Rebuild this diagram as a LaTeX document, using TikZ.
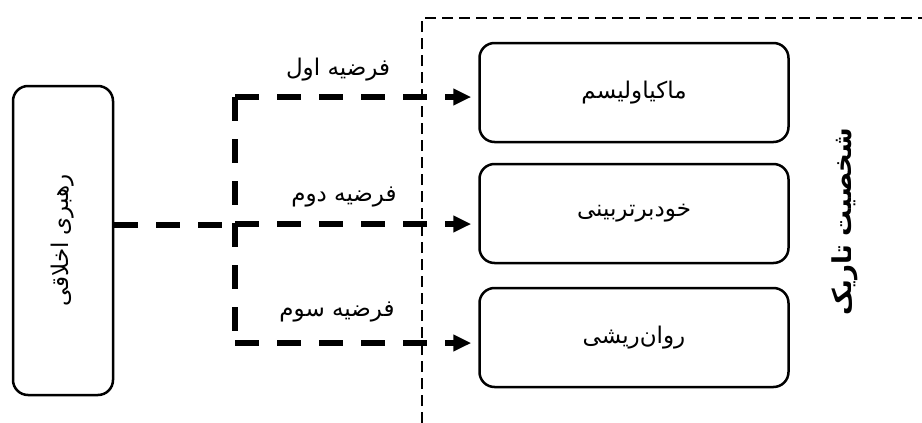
\documentclass[tikz,border=0pt]{standalone}
\usepackage{fontspec}
\newfontfamily\farsi[Script=Arabic]{DejaVu Sans}
\TeXXeTstate=1
\usetikzlibrary{arrows.meta,positioning}

\begin{document}
\begin{tikzpicture}[x=1pt,y=-1pt,
      every node/.style={font=\farsi\fontsize{23}{26}\selectfont},
      trait/.style={draw,rounded corners=15pt,line width=2.5pt,
        minimum width=309pt,minimum height=99pt},
      leader/.style={draw,rounded corners=15pt,line width=2.5pt,
        minimum width=100pt,minimum height=309pt},
      heavydash/.style={line width=5.5pt,dash pattern=on 24pt off 18pt},
      framedash/.style={line width=1.6pt,dash pattern=on 11pt off 6pt},
      hypo/.style={heavydash,-{Triangle[length=18pt,width=16pt]},shorten >=7pt}]
    \useasboundingbox (0,0) rectangle (922,423);
    % boxes
    \node[leader] (lead) at (63,240.5) {\rotatebox{90}{\beginR رهبری اخلاقی\endR}};
    \node[trait] (mach) at (634,92.5) {\beginR ماکیاولیسم\endR};
    \node[trait] (narc) at (634,213.5) {\beginR خودبرتربینی\endR};
    \node[trait] (psyc) at (634,337.5) {\beginR روان‌ریشی\endR};
    \node[rotate=90,font=\farsi\bfseries\fontsize{26}{30}\selectfont] (dark) at (845,222)
      {\beginR شخصیت تاریک\endR};
    % frame round the dark traits
    \coordinate (fb) at (422,423);
    \coordinate (fr) at (922,18);
    \draw[framedash] (fb) |- (fr);
    % hypotheses
    \coordinate (fork) at (235,225);
    \coordinate (h1) at (235,97);
    \coordinate (h2) at (235,224);
    \coordinate (h3) at (235,343);
    \draw[heavydash] (lead.east |- fork) -- (fork);
    \draw[heavydash] (h1) -- (h3);
    \draw[hypo] (h1) -- (h1 -| mach.west);
    \draw[hypo] (h2) -- (h2 -| narc.west);
    \draw[hypo] (h3) -- (h3 -| psyc.west);
    \node (f1) at (338,70) {\beginR فرضیه اول\endR};
    \node (f2) at (344,197) {\beginR فرضیه دوم\endR};
    \node (f3) at (337,312) {\beginR فرضیه سوم\endR};
  \end{tikzpicture}
\end{document}
